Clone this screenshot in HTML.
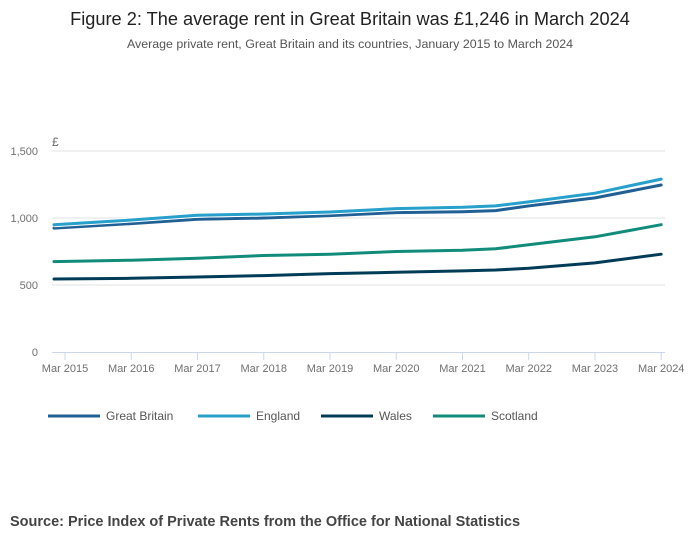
<!DOCTYPE html>
<html><head><meta charset="utf-8"><style>
body{margin:0;background:#fff;font-family:"Liberation Sans",sans-serif}
#wrap{position:relative;width:700px;height:549px;overflow:hidden}
</style></head><body>
<div id="wrap">
<svg id="svg" width="700" height="549" xmlns="http://www.w3.org/2000/svg">
<text x="350" y="25" text-anchor="middle" font-size="18.2" fill="#222">Figure 2: The average rent in Great Britain was £1,246 in March 2024</text>
<text x="350" y="48" text-anchor="middle" font-size="12.4" fill="#555">Average private rent, Great Britain and its countries, January 2015 to March 2024</text>
<text x="52" y="146" font-size="12" fill="#666">£</text>
<g id="grid"></g><g id="xaxis"></g><g id="series"></g><g id="legend"></g>
<text x="10" y="526" font-size="14.5" font-weight="bold" fill="#444">Source: Price Index of Private Rents from the Office for National Statistics</text>
</svg>
</div>
<script>
const months=[0,14,26,38,50,62,74,80,86,98,110];
const gbValues=[925,958,990,1000,1018,1040,1047,1055,1090,1150,1246];
const englandValues=[950,985,1020,1030,1045,1070,1080,1090,1120,1185,1290];
const walesValues=[545,550,560,570,585,595,605,612,625,665,730];
const scotlandValues=[675,685,700,720,730,750,760,770,800,860,950];
const yTicks=[0,500,1000,1500];
const yTickLabels=["0","500","1,000","1,500"];
const xTickMonths=[2,14,26,38,50,62,74,86,98,110];
const xTickLabels=["Mar 2015","Mar 2016","Mar 2017","Mar 2018","Mar 2019","Mar 2020","Mar 2021","Mar 2022","Mar 2023","Mar 2024"];
const seriesNames=["Great Britain","England","Wales","Scotland"];
const NS="http://www.w3.org/2000/svg";
const x=m=>54+m*5.52, y=v=>352-v*201/1500;
function mk(t,a,p){const e=document.createElementNS(NS,t);for(const k in a)e.setAttribute(k,a[k]);p.appendChild(e);return e;}
const grid=document.getElementById('grid');
yTicks.forEach((v,i)=>{
 if(v>0){const l=mk('line',{x1:52,x2:665,y1:y(v),y2:y(v),stroke:'#e0e0e0','stroke-width':1},grid);
 
 }
 const t=mk('text',{x:38,y:y(v)+4,'text-anchor':'end','font-size':11,fill:'#707070'},grid);t.textContent=yTickLabels[i];
 
 
});
const xa=document.getElementById('xaxis');
const al=mk('line',{x1:52,x2:665,y1:352.5,y2:352.5,stroke:'#ccd6eb','stroke-width':1},xa);


xTickMonths.forEach((m,i)=>{
 const tk=mk('line',{x1:x(m),x2:x(m),y1:352,y2:360,stroke:'#ccd6eb'},xa);
 
 
 const t=mk('text',{x:x(m),y:372,'text-anchor':'middle','font-size':11,fill:'#707070'},xa);t.textContent=xTickLabels[i];
 
 
});
const colors=['#206095','#27a0cc','#003c57','#118c7b'];
const data=[gbValues,englandValues,walesValues,scotlandValues];
const sg=document.getElementById('series');
data.forEach((vals,i)=>{
 const d=vals.map((v,j)=>(j?'L':'M')+x(months[j]).toFixed(1)+','+y(v).toFixed(1)).join(' ');
 const w=mk('path',{d:d,fill:'none',stroke:'#fff','stroke-width':5,'stroke-linejoin':'round'},sg);
 
 
 const p=mk('path',{d:d,fill:'none',stroke:colors[i],'stroke-width':3,'stroke-linejoin':'round','stroke-linecap':'round'},sg);
 
 
});
const lg=document.getElementById('legend');
const lx=[48,198,321,433];
seriesNames.forEach((n,i)=>{
 const g=mk('g',{},lg);
 
 
 mk('line',{x1:lx[i],x2:lx[i]+52,y1:416,y2:416,stroke:colors[i],'stroke-width':3},g);
 const t=mk('text',{x:lx[i]+58,y:420,'font-size':12,fill:'#555'},g);t.textContent=n;
});
</script>
</body></html>
